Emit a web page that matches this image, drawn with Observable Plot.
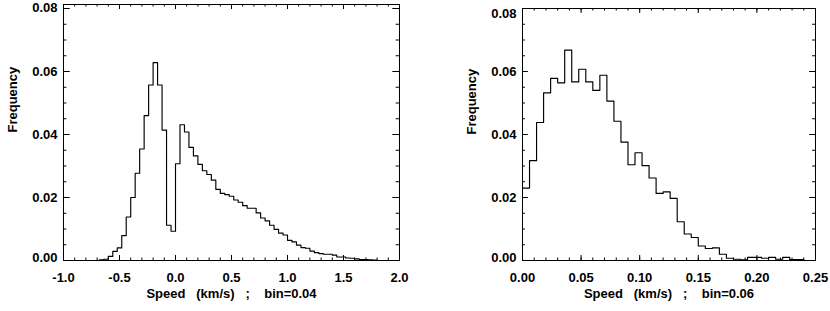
<!DOCTYPE html>
<html><head><meta charset="utf-8">
<script src="https://cdn.jsdelivr.net/npm/d3@7"></script>
<script src="https://cdn.jsdelivr.net/npm/@observablehq/plot@0.6"></script>
<style>
body{margin:0;background:#fff;}
#wrap{display:flex;width:830px;height:311px;}
</style></head><body><div id="wrap"></div>
<script>
// Left histogram: bins of 0.04 km/s starting at -0.68
const leftBinStart = -0.68;
const leftBinWidth = 0.04;
const leftFreq = [
  0.0002, 0.0004, 0.0013, 0.0029, 0.0040, 0.0079, 0.0138, 0.0200, 0.0277, 0.0354,
  0.0460, 0.0557, 0.0628, 0.0557, 0.0414, 0.0112, 0.0093, 0.0307, 0.0431, 0.0408,
  0.0359, 0.0332, 0.0305, 0.0285, 0.0273, 0.0255, 0.0226, 0.0213, 0.0209, 0.0204,
  0.0192, 0.0185, 0.0174, 0.0166, 0.0166, 0.0151, 0.0135, 0.0126, 0.0112, 0.0099,
  0.0087, 0.0081, 0.0064, 0.0059, 0.0049, 0.0041, 0.0039, 0.0030, 0.0025, 0.0022,
  0.0020, 0.0020, 0.0017, 0.0011, 0.0011, 0.0008, 0.0007, 0.0005, 0.0003, 0.0003,
  0.0002, 0.0001
];
// Right histogram: bins of 0.006 km/s starting at 0
const rightBinStart = 0;
const rightBinWidth = 0.006;
const rightFreq = [
  0.0230, 0.0317, 0.0438, 0.0532, 0.0578, 0.0564, 0.0668, 0.0567, 0.0607, 0.0567,
  0.0540, 0.0588, 0.0506, 0.0442, 0.0376, 0.0304, 0.0342, 0.0301, 0.0262, 0.0213,
  0.0218, 0.0197, 0.0123, 0.0084, 0.0073, 0.0046, 0.0038, 0.0040, 0.0020, 0.0007,
  0.0004, 0.0002, 0.0010, 0.0010, 0.0007, 0.0010, 0.0004, 0.0010, 0.0003, 0.0003
];

const yTicks = [0.00, 0.02, 0.04, 0.06, 0.08];
const yMinorTicks = d3.range(0, 0.0801, 0.005);
const leftXTicks = [-1.0, -0.5, 0.0, 0.5, 1.0, 1.5, 2.0];
const leftXMinorTicks = d3.range(-1.0, 2.001, 0.1);
const rightXTicks = [0.00, 0.05, 0.10, 0.15, 0.20, 0.25];
const rightXMinorTicks = d3.range(0, 0.2501, 0.01);
const leftXLabel = "Speed   (km/s)   ;    bin=0.04";
const rightXLabel = "Speed   (km/s)   ;    bin=0.06";
const yLabel = "Frequency";

const FONT = "'Liberation Sans', Arial, Helvetica, sans-serif";

function steps(start, w, freq) {
  const pts = freq.map((f, i) => ({x: start + i * w, y: f}));
  pts.push({x: start + freq.length * w, y: freq[freq.length - 1]});
  return pts;
}

function panel({data, xDomain, xTicks, xMinor, xFmt, label, marginLeft, marginRight, marginTop, topLabelDy}) {
  const W = 415, H = 311, mb = 51;
  const pw = W - marginLeft - marginRight, ph = H - marginTop - mb;
  const xMaj = 5, xMin = 2.5, yMaj = pw * 0.02, yMin = yMaj / 2;
  const txt = {fontFamily: FONT, fontWeight: "bold", fontSize: 13, fill: "black"};
  return Plot.plot({
    width: W, height: H, marginLeft, marginRight, marginTop, marginBottom: mb,
    x: {domain: xDomain},
    y: {domain: [0, 0.08], range: [H - mb, 8]},
    style: {fontFamily: FONT, fontSize: "13px", fontWeight: "bold", color: "black", background: "white", overflow: "visible"},
    marks: [
      Plot.frame({stroke: "black", strokeWidth: 1}),
      Plot.tickX(xTicks, {x: d => d, insetTop: ph - xMaj, stroke: "black"}),
      Plot.tickX(xTicks, {x: d => d, insetBottom: ph - xMaj, stroke: "black"}),
      Plot.tickX(xMinor, {x: d => d, insetTop: ph - xMin, stroke: "black"}),
      Plot.tickX(xMinor, {x: d => d, insetBottom: ph - xMin, stroke: "black"}),
      Plot.tickY(yTicks, {y: d => d, insetRight: pw - yMaj, stroke: "black"}),
      Plot.tickY(yTicks, {y: d => d, insetLeft: pw - yMaj, stroke: "black"}),
      Plot.tickY(yMinorTicks, {y: d => d, insetRight: pw - yMin, stroke: "black"}),
      Plot.tickY(yMinorTicks, {y: d => d, insetLeft: pw - yMin, stroke: "black"}),
      Plot.axisX(xTicks, {tickSize: 0, tickPadding: 12, tickFormat: xFmt, label: null, ...txt}),
      Plot.axisY(yTicks.slice(1, 4), {tickSize: 0, tickPadding: 6, tickFormat: d => d.toFixed(2), label: null, ...txt}),
      Plot.axisY(yTicks.slice(0, 1), {tickSize: 0, tickPadding: 6, tickFormat: d => d.toFixed(2), label: null, dy: -3, ...txt}),
      Plot.axisY(yTicks.slice(4), {tickSize: 0, tickPadding: 6, tickFormat: d => d.toFixed(2), label: null, dy: topLabelDy, ...txt}),
      Plot.lineY(data, {x: "x", y: "y", curve: "step-after", stroke: "black", strokeWidth: 1.15}),
      Plot.text([label], {frameAnchor: "bottom", dy: 37, ...txt, letterSpacing: 0.3, style: "white-space:pre"}),
      Plot.text([yLabel], {frameAnchor: "left", rotate: -90, dx: -51, ...txt})
    ]
  });
}

const wrap = document.getElementById("wrap");
wrap.append(panel({
  data: steps(leftBinStart, leftBinWidth, leftFreq),
  xDomain: [-1, 2], xTicks: leftXTicks, xMinor: leftXMinorTicks,
  xFmt: d => d.toFixed(1), label: leftXLabel,
  marginLeft: 63, marginRight: 16, marginTop: 4, topLabelDy: -0.5
}));
wrap.append(panel({
  data: steps(rightBinStart, rightBinWidth, rightFreq),
  xDomain: [0, 0.25], xTicks: rightXTicks, xMinor: rightXMinorTicks,
  xFmt: d => d.toFixed(2), label: rightXLabel,
  marginLeft: 107, marginRight: 15, marginTop: 8, topLabelDy: 5.5
}));
</script></body></html>
